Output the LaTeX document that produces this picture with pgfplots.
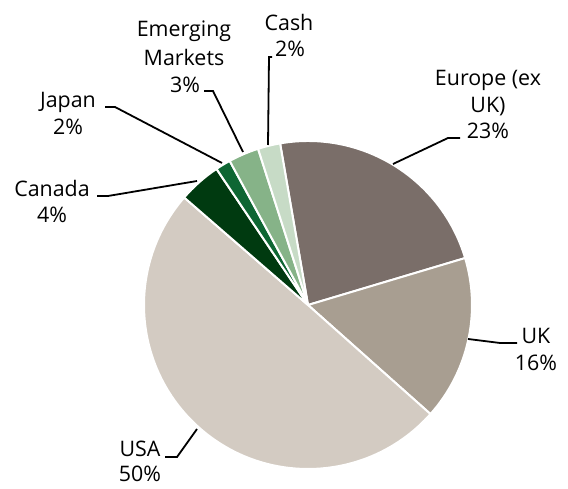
\documentclass[border=0pt]{standalone}
\usepackage{pgfplots}
\usepackage{pgfplotstable}
\pgfplotsset{compat=1.18}
\usepackage{fontspec}
\setmainfont{Open Sans}

\definecolor{cEur}{HTML}{7A6E69}
\definecolor{cUK}{HTML}{A89E91}
\definecolor{cUSA}{HTML}{D3CBC2}
\definecolor{cCan}{HTML}{003A10}
\definecolor{cJap}{HTML}{0E6633}
\definecolor{cEM}{HTML}{86B388}
\definecolor{cCash}{HTML}{C7DBC6}

% allocation (%), clockwise from the Cash/Europe edge
\pgfplotstableread{
name   val  col
Europe 23.1 cEur
UK     16.2 cUK
USA    49.8 cUSA
Canada 4.2  cCan
Japan  1.5  cJap
EM     3.0  cEM
Cash   2.2  cCash
}\piedata

\begin{document}
\begin{tikzpicture}
\begin{axis}[
    x=0.5pt, y=0.5pt,
    xmin=0, xmax=568, ymin=0, ymax=486,
    hide axis, clip=false,
]
% fix the picture's extent
\path (axis cs:0,0) rectangle (axis cs:568,486);

\pgfplotstablegetrowsof{\piedata}
\pgfmathtruncatemacro\nrows{\pgfplotsretval-1}
\xdef\angA{99.8}
\pgfplotsforeachungrouped \i in {0,...,\nrows}{
  \pgfplotstablegetelem{\i}{val}\of\piedata \let\v\pgfplotsretval
  \pgfplotstablegetelem{\i}{col}\of\piedata \let\c\pgfplotsretval
  \pgfmathsetmacro\angB{\angA-3.6*\v}
  \pgfmathsetmacro\xA{308+164*cos(\angA)}
  \pgfmathsetmacro\yA{181+164*sin(\angA)}
  \edef\temp{\noexpand\fill[\c, draw=white, line width=1pt, line join=round]
    (axis cs:308,181) -- (axis cs:\xA,\yA)
    arc[start angle=\angA, end angle=\angB, radius=82pt] -- cycle;}
  \temp
  \xdef\angA{\angB}
}

% leader lines
\draw[line width=0.9pt] (axis cs:204,395) -- (axis cs:213,395) -- (axis cs:243,334);
\draw[line width=0.9pt] (axis cs:105,379) -- (axis cs:115,379) -- (axis cs:222,323);
\draw[line width=0.9pt] (axis cs:97,290) -- (axis cs:108,290) -- (axis cs:197,305);
\draw[line width=0.9pt] (axis cs:272,429) -- (axis cs:269,429) -- (axis cs:268,341);
\draw[line width=0.9pt] (axis cs:460,348) -- (axis cs:448,348) -- (axis cs:393,322);
\draw[line width=0.9pt] (axis cs:468,147) -- (axis cs:500,143) -- (axis cs:517,143);
\draw[line width=0.9pt] (axis cs:165,29) -- (axis cs:177,29) -- (axis cs:197,57);

% labels, one node per line at its baseline
\tikzset{lab/.style={anchor=base, inner sep=0pt, font=\fontsize{10.7}{13}\selectfont}}
\node[lab] at (axis cs:184,449) {Emerging};
\node[lab] at (axis cs:184,420) {Markets};
\node[lab] at (axis cs:185,393) {3\%};
\node[lab] at (axis cs:68,378) {Japan};
\node[lab] at (axis cs:68,351) {2\%};
\node[lab] at (axis cs:52,289) {Canada};
\node[lab] at (axis cs:52,263) {4\%};
\node[lab] at (axis cs:289,455) {Cash};
\node[lab] at (axis cs:290,429) {2\%};
\node[lab] at (axis cs:488,400) {Europe (ex};
\node[lab] at (axis cs:488,373) {UK)};
\node[lab] at (axis cs:488,347) {23\%};
\node[lab] at (axis cs:536,142) {UK};
\node[lab] at (axis cs:536,115) {16\%};
\node[lab] at (axis cs:140,29) {USA};
\node[lab] at (axis cs:140,4) {50\%};
\end{axis}
\end{tikzpicture}
\end{document}
